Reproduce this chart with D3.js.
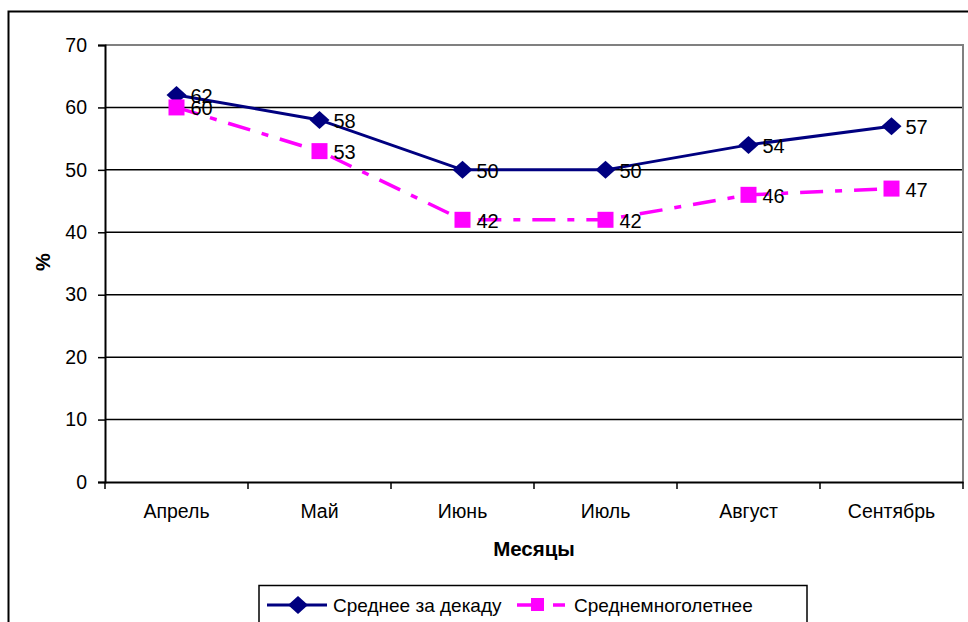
<!DOCTYPE html>
<html>
<head>
<meta charset="utf-8">
<script src="https://cdn.jsdelivr.net/npm/d3@7"></script>
<style>
  body { margin: 0; background: #fff; }
  svg { display: block; font-family: "Liberation Sans", Arial, sans-serif; }
</style>
</head>
<body>
<svg id="chart" width="968" height="622"></svg>
<script>
// data
var months = ["Апрель", "Май", "Июнь", "Июль", "Август", "Сентябрь"];
var decade = [62, 58, 50, 50, 54, 57];
var longTerm = [60, 53, 42, 42, 46, 47];
var yTicks = [0, 10, 20, 30, 40, 50, 60, 70];
var seriesNames = ["Среднее за декаду", "Среднемноголетнее"];

var svg = d3.select("#chart");
var m = { left: 105, top: 45, right: 963, bottom: 482 };

// outer chart border
svg.append("rect")
  .attr("x", 8.5).attr("y", 11.5)
  .attr("width", 980).attr("height", 700)
  .attr("fill", "#fff").attr("stroke", "#000").attr("stroke-width", 2);

var x = d3.scaleBand().domain(months).range([m.left, m.right]);
var y = d3.scaleLinear().domain([0, 70]).range([m.bottom, m.top]);

// grid
svg.append("g").selectAll("line")
  .data(yTicks.slice(1, -1))
  .enter().append("line")
  .attr("x1", m.left).attr("x2", m.right)
  .attr("y1", function(d) { return y(d); })
  .attr("y2", function(d) { return y(d); })
  .attr("stroke", "#000").attr("stroke-width", 1.5);

// plot frame (gray top/right)
svg.append("path")
  .attr("d", "M" + m.left + "," + m.top + "H" + m.right + "V" + m.bottom)
  .attr("fill", "none").attr("stroke", "#808080").attr("stroke-width", 2);

// y axis
var yAxis = svg.append("g")
  .attr("transform", "translate(" + m.left + ",0)")
  .call(d3.axisLeft(y).tickValues(yTicks).tickSize(7).tickPadding(11));
yAxis.select(".domain").attr("stroke", "#000").attr("stroke-width", 2);
yAxis.selectAll(".tick line").attr("stroke", "#000").attr("stroke-width", 1.5);
yAxis.selectAll(".tick text").attr("font-size", 19.5).attr("fill", "#000")
  .attr("font-family", "Liberation Sans, Arial, sans-serif");

// x axis
var xAxis = svg.append("g")
  .attr("transform", "translate(0," + m.bottom + ")")
  .call(d3.axisBottom(x).tickSize(0).tickPadding(22));
xAxis.select(".domain").attr("stroke", "#000").attr("stroke-width", 2);
xAxis.selectAll(".tick text").attr("font-size", 19.5).attr("fill", "#000")
  .attr("font-family", "Liberation Sans, Arial, sans-serif");
xAxis.selectAll(".cat-tick")
  .data(d3.range(months.length + 1))
  .enter().append("line")
  .attr("x1", function(i) { return m.left + i * x.step(); })
  .attr("x2", function(i) { return m.left + i * x.step(); })
  .attr("y1", 0).attr("y2", 7)
  .attr("stroke", "#000").attr("stroke-width", 1.5);

// axis titles
svg.append("text")
  .attr("transform", "translate(50,262) rotate(-90)")
  .attr("text-anchor", "middle")
  .attr("font-size", 20).attr("font-weight", "bold")
  .text("%");
svg.append("text")
  .attr("x", 534).attr("y", 556)
  .attr("text-anchor", "middle")
  .attr("font-size", 20.5).attr("font-weight", "bold")
  .text("Месяцы");

function cx(i) { return x(months[i]) + x.bandwidth() / 2; }

var line = d3.line()
  .x(function(d, i) { return cx(i); })
  .y(function(d) { return y(d); });

// long-term series (dash-dot magenta)
svg.append("path")
  .datum(longTerm)
  .attr("d", line)
  .attr("fill", "none")
  .attr("stroke", "#ff00ff").attr("stroke-width", 3.5)
  .attr("stroke-dasharray", "23,12,7,12");

// decade series (navy)
svg.append("path")
  .datum(decade)
  .attr("d", line)
  .attr("fill", "none")
  .attr("stroke", "#000080").attr("stroke-width", 3);

var diamond = "M0,-9L10,0L0,9L-10,0Z";

svg.append("g").selectAll("path")
  .data(decade)
  .enter().append("path")
  .attr("d", diamond)
  .attr("transform", function(d, i) { return "translate(" + cx(i) + "," + y(d) + ")"; })
  .attr("fill", "#000080");

svg.append("g").selectAll("rect")
  .data(longTerm)
  .enter().append("rect")
  .attr("x", function(d, i) { return cx(i) - 8; })
  .attr("y", function(d) { return y(d) - 8; })
  .attr("width", 16).attr("height", 16)
  .attr("fill", "#ff00ff");

// data labels
function labels(data) {
  svg.append("g").selectAll("text")
    .data(data)
    .enter().append("text")
    .attr("x", function(d, i) { return cx(i) + 14; })
    .attr("y", function(d) { return y(d) + 8; })
    .attr("font-size", 20)
    .text(function(d) { return d; });
}
labels(longTerm);
labels(decade);

// legend
var lg = svg.append("g");
lg.append("rect")
  .attr("x", 259).attr("y", 585.5)
  .attr("width", 548).attr("height", 60)
  .attr("fill", "#fff").attr("stroke", "#000").attr("stroke-width", 1.5);
var ly = 605;
lg.append("line")
  .attr("x1", 267).attr("x2", 327).attr("y1", ly).attr("y2", ly)
  .attr("stroke", "#000080").attr("stroke-width", 3);
lg.append("path")
  .attr("d", diamond)
  .attr("transform", "translate(298," + ly + ")")
  .attr("fill", "#000080");
lg.append("text")
  .attr("x", 333).attr("y", ly + 7)
  .attr("font-size", 19)
  .text(seriesNames[0]);
lg.append("line")
  .attr("x1", 517).attr("x2", 570).attr("y1", ly).attr("y2", ly)
  .attr("stroke", "#ff00ff").attr("stroke-width", 3.5)
  .attr("stroke-dasharray", "24,12,12,100");
lg.append("rect")
  .attr("x", 531).attr("y", ly - 7)
  .attr("width", 13).attr("height", 13)
  .attr("fill", "#ff00ff");
lg.append("text")
  .attr("x", 574).attr("y", ly + 7)
  .attr("font-size", 19)
  .text(seriesNames[1]);
</script>
</body>
</html>
